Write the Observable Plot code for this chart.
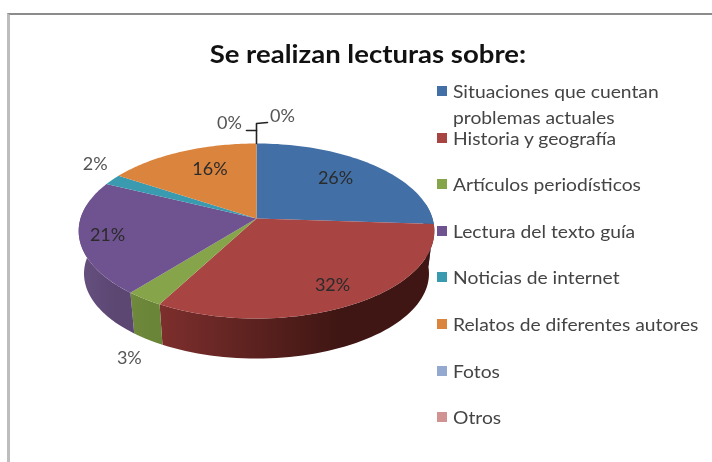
<!DOCTYPE html>
<html><head><meta charset="utf-8">
<script src="https://cdn.jsdelivr.net/npm/d3@7"></script>
<script src="https://cdn.jsdelivr.net/npm/@observablehq/plot@0.6"></script>
<style>
html,body{margin:0;padding:0;background:#fff;overflow:hidden}
#page{position:relative;width:712px;height:462px;overflow:hidden;font-family:Lato,sans-serif;filter:blur(0.5px)}
#frame{position:absolute;left:7px;top:13px;width:800px;height:600px;border-left:3px solid #bdbdbd;border-top:2px solid #8c8c8c}
#title{position:absolute;left:8px;width:721px;top:36px;line-height:34px;text-align:center;font-family:Lato,sans-serif;font-weight:700;font-size:25.5px;color:#111;transform:scaleX(1.08);transform-origin:368.5px 0}
#chart{position:absolute;left:0;top:0}
.lg{position:absolute;left:437px;font-size:18px;line-height:26px;color:#444;white-space:pre}
.lg i{position:absolute;left:0;top:8px;width:10px;height:10px}
.lg span{position:absolute;left:16px;top:0;transform:scaleX(1.07);transform-origin:0 0}
</style></head><body>
<div id="page"><div id="frame"></div><div id="title">Se realizan lecturas sobre:</div><div id="chart"></div></div>
<script>
const categories = ["Situaciones que cuentan\nproblemas actuales","Historia y geografía","Artículos periodísticos","Lectura del texto guía","Noticias de internet","Relatos de diferentes autores","Fotos","Otros"];
const percents = [26,32,3,21,2,16,0,0];
const topColors = ["#4270a6","#a84442","#86a44a","#6f5290","#3a9ab0","#db843d","#93a9cf","#d19392"];
const wallLight = ["#2f5078","#7d2f2d","#6f8a3c","#66507f","#2a7080","#a8652d","#6e80a0","#a07070"];
const wallDark  = ["#2f5078","#3f1613","#6a8538","#5c4773","#2a7080","#a8652d","#6e80a0","#a07070"];

// layout of the projected pie
const cx=256, cy=218, R=176, Q=85.7, p=1/7, depth=43/85.7, bottomScale=0.97;
const labelRho=[.7,.7,1,.7,1,.7,1,1];
const nudge=[[-5,-1.5],[11,9],[-15,59],[-26,3],[-17,-16],[8,-1],[-27,-20],[26,-27]];

const rad=Math.PI/180;
const proj=(deg,rho=1,s=1,dz=0)=>{const t=deg*rad,c=Math.cos(t)*rho,w=1+p*c;return {x:s*rho*Math.sin(t)/w,y:c/w*s-dz};};
let acc=0;
const slices=percents.map((v,i)=>{const a=acc*3.6;acc+=v;return {i,a,b:acc*3.6,mid:(a+acc*3.6)/2,v};});
const topPts=[],wallPts=[];
for(const s of slices){
  if(s.v===0) continue;
  topPts.push({i:s.i,x:0,y:0});
  for(let d=s.a;d<=s.b+1e-6;d+=Math.max((s.b-s.a)/60,.01)) topPts.push({i:s.i,...proj(d)});
  const a=Math.max(s.a,80),b=Math.min(s.b,280);
  if(b>a){
    const fw=[];for(let k=0;k<=60;k++)fw.push(a+(b-a)*k/60);
    for(const d of fw) wallPts.push({i:s.i,...proj(d)});
    for(const d of fw.slice().reverse()) wallPts.push({i:s.i,...proj(d,1,bottomScale,depth)});
  }
}
const zero=proj(0);
const leaders=[
 [{x:zero.x,y:zero.y},{x:zero.x,y:zero.y+20/Q}, {x:zero.x+11/R,y:zero.y+21/Q}],
 [{x:zero.x,y:zero.y+13/Q},{x:zero.x-10/R,y:zero.y+13/Q}]
];
const labels=slices.map(s=>{const pt=proj(s.mid,labelRho[s.i]);return {...pt,i:s.i,t:s.v+"%",dx:nudge[s.i][0],dy:nudge[s.i][1]};});

const wallGrad=(id,i)=>`<linearGradient id="${id}" x1="1" x2="0" y1="0" y2="0"><stop offset="0" stop-color="${wallDark[i]}"/><stop offset="0.35" stop-color="${wallDark[i]}"/><stop offset="1" stop-color="${wallLight[i]}"/></linearGradient>`;
const defs=()=>{const g=document.createElementNS("http://www.w3.org/2000/svg","defs");g.innerHTML=percents.map((_,i)=>wallGrad("w"+i,i)).join("");return g;};

const chart=Plot.plot({
 width:712,height:462,margin:0,
 style:{background:"transparent"},
 x:{domain:[-1,1],range:[cx-R,cx+R],axis:null},
 y:{domain:[-1,1],range:[cy+Q,cy-Q],axis:null},
 marks:[
  defs,
  ...slices.filter(s=>s.v>0).map(s=>Plot.line(wallPts.filter(d=>d.i===s.i),{x:"x",y:"y",fill:`url(#w${s.i})`,stroke:"none"})),
  ...slices.filter(s=>s.v>0).map(s=>Plot.line(topPts.filter(d=>d.i===s.i),{x:"x",y:"y",fill:topColors[s.i],stroke:"none"})),
  ...leaders.map(l=>Plot.line(l,{x:"x",y:"y",stroke:"#222",strokeWidth:1.6})),
  ...labels.map(l=>Plot.text([l],{x:"x",y:"y",text:"t",dx:l.dx,dy:l.dy,fontSize:18,fontFamily:"Lato,sans-serif",fill:(l.i===2||l.i===4||l.i>5)?"#555":"#2b2b2b"}))
 ]
});
document.getElementById("chart").append(chart);
const page=document.getElementById("page");
categories.forEach((c,i)=>{
 const d=document.createElement("div");d.className="lg";d.style.top=(78+i*46.6)+"px";
 const sw=document.createElement("i");sw.style.background=topColors[i];
 const sp=document.createElement("span");sp.textContent=c;
 d.append(sw,sp);page.append(d);
});
</script></body></html>
